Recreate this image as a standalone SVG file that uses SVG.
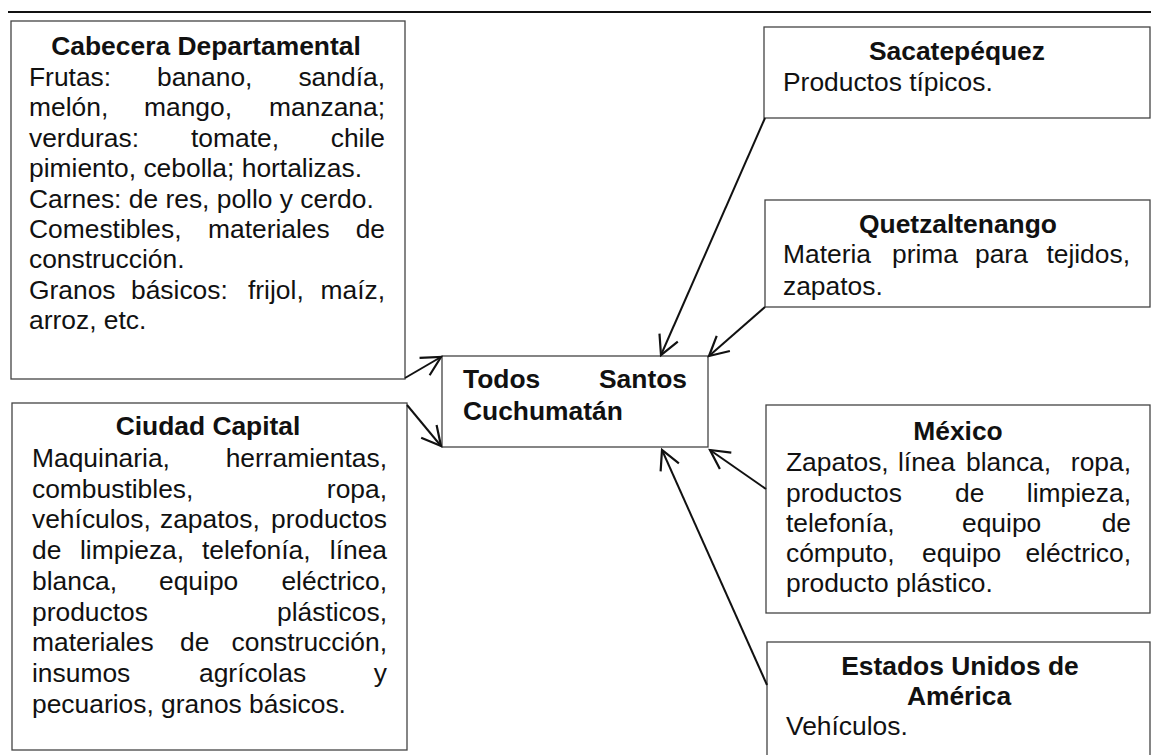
<svg xmlns="http://www.w3.org/2000/svg" width="1151" height="755" viewBox="0 0 1151 755">
<style>
text{font-family:"Liberation Sans",Arial,sans-serif;font-size:26.4px;fill:#111}
.b{font-weight:bold}
.c{text-anchor:middle}
.e{text-anchor:end}
.box{fill:#fff;stroke:#444;stroke-width:1.3}
.con{stroke:#111;stroke-width:2;fill:none}
</style>
<defs>
<marker id="arr" markerUnits="userSpaceOnUse" markerWidth="24" markerHeight="24" viewBox="0 0 24 24" refX="21" refY="12" orient="auto">
<path d="M2,2 L21,12 L2,22" fill="none" stroke="#111" stroke-width="2.2"/>
</marker>
</defs>
<rect width="1151" height="755" fill="#fff"/>
<line x1="8" y1="12" x2="1151" y2="12" stroke="#111" stroke-width="2"/>

<g id="cabecera">
<rect class="box" x="11" y="21" width="394" height="358"/>
<text class="b c" x="206" y="55">Cabecera Departamental</text>
<text y="86"><tspan x="29">Frutas:</tspan><tspan x="157">banano,</tspan><tspan class="e" x="385">sandía,</tspan></text>
<text y="116.4"><tspan x="29">melón,</tspan><tspan x="144">mango,</tspan><tspan class="e" x="385">manzana;</tspan></text>
<text y="146.8"><tspan x="29">verduras:</tspan><tspan x="191">tomate,</tspan><tspan class="e" x="385">chile</tspan></text>
<text x="29" y="177.2">pimiento, cebolla; hortalizas.</text>
<text x="29" y="207.6">Carnes: de res, pollo y cerdo.</text>
<text y="238"><tspan x="29">Comestibles,</tspan><tspan x="208">materiales</tspan><tspan class="e" x="385">de</tspan></text>
<text x="29" y="268.4">construcción.</text>
<text y="298.8"><tspan x="29">Granos</tspan><tspan x="131">básicos:</tspan><tspan x="248">frijol,</tspan><tspan class="e" x="385">maíz,</tspan></text>
<text x="29" y="329.2">arroz, etc.</text>
</g>

<g id="ciudad">
<rect class="box" x="12" y="403" width="395" height="347"/>
<text class="b c" x="208" y="435">Ciudad Capital</text>
<text y="467"><tspan x="32">Maquinaria,</tspan><tspan class="e" x="387">herramientas,</tspan></text>
<text y="497.7"><tspan x="32">combustibles,</tspan><tspan class="e" x="387">ropa,</tspan></text>
<text y="528.4"><tspan x="32">vehículos,</tspan><tspan x="160">zapatos,</tspan><tspan class="e" x="387">productos</tspan></text>
<text y="559.1"><tspan x="32">de</tspan><tspan x="80">limpieza,</tspan><tspan x="202">telefonía,</tspan><tspan class="e" x="387">línea</tspan></text>
<text y="589.8"><tspan x="32">blanca,</tspan><tspan x="159">equipo</tspan><tspan class="e" x="387">eléctrico,</tspan></text>
<text y="620.5"><tspan x="32">productos</tspan><tspan class="e" x="387">plásticos,</tspan></text>
<text y="651.2"><tspan x="32">materiales</tspan><tspan x="180">de</tspan><tspan class="e" x="387">construcción,</tspan></text>
<text y="681.9"><tspan x="32">insumos</tspan><tspan x="199">agrícolas</tspan><tspan class="e" x="387">y</tspan></text>
<text x="32" y="712.6">pecuarios, granos básicos.</text>
</g>

<g id="todos-santos">
<rect class="box" x="442" y="356" width="266" height="91"/>
<text class="b" y="388"><tspan x="463">Todos</tspan><tspan class="e" x="687">Santos</tspan></text>
<text class="b" x="463" y="420">Cuchumatán</text>
</g>

<g id="sacatepequez">
<rect class="box" x="764" y="27" width="386" height="91"/>
<text class="b c" x="957" y="60">Sacatepéquez</text>
<text x="783" y="91">Productos típicos.</text>
</g>

<g id="quetzaltenango">
<rect class="box" x="765" y="200" width="385" height="107"/>
<text class="b c" x="958" y="233">Quetzaltenango</text>
<text y="263"><tspan x="783">Materia</tspan><tspan x="892">prima</tspan><tspan x="975">para</tspan><tspan class="e" x="1130">tejidos,</tspan></text>
<text x="783" y="295">zapatos.</text>
</g>

<g id="mexico">
<rect class="box" x="766" y="405" width="384" height="208"/>
<text class="b c" x="958" y="440">México</text>
<text y="471"><tspan x="786">Zapatos,</tspan><tspan x="898">línea</tspan><tspan x="966">blanca,</tspan><tspan class="e" x="1131">ropa,</tspan></text>
<text y="502"><tspan x="786">productos</tspan><tspan x="955">de</tspan><tspan class="e" x="1131">limpieza,</tspan></text>
<text y="532"><tspan x="786">telefonía,</tspan><tspan x="962">equipo</tspan><tspan class="e" x="1131">de</tspan></text>
<text y="562"><tspan x="786">cómputo,</tspan><tspan x="922">equipo</tspan><tspan class="e" x="1131">eléctrico,</tspan></text>
<text x="786" y="592">producto plástico.</text>
</g>

<g id="eeuu">
<rect class="box" x="767" y="642" width="383" height="130"/>
<text class="b c" x="960" y="675">Estados Unidos de</text>
<text class="b c" x="959" y="705">América</text>
<text x="786" y="735">Vehículos.</text>
</g>

<g id="connectors">
<line class="con" x1="405" y1="378" x2="441" y2="357" marker-end="url(#arr)"/>
<line class="con" x1="407" y1="405" x2="441" y2="446" marker-end="url(#arr)"/>
<line class="con" x1="765" y1="118" x2="661" y2="355" marker-end="url(#arr)"/>
<line class="con" x1="765" y1="307" x2="709" y2="356" marker-end="url(#arr)"/>
<line class="con" x1="766" y1="489" x2="710" y2="450" marker-end="url(#arr)"/>
<line class="con" x1="767" y1="685" x2="662" y2="450" marker-end="url(#arr)"/>
</g>
</svg>
